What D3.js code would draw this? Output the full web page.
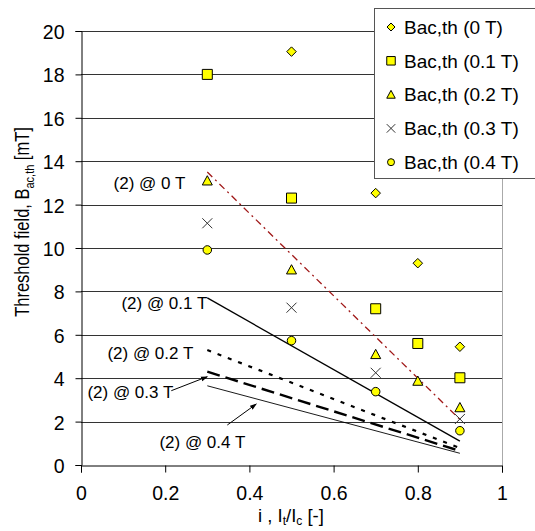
<!DOCTYPE html>
<html lang="en">
<head>
<meta charset="UTF-8">
<title>Threshold field vs current ratio</title>
<script src="https://cdn.jsdelivr.net/npm/d3@7"></script>
<style>
  body { margin: 0; background: #fff; }
  svg { display: block; font-family: "Liberation Sans", Arial, sans-serif; }
</style>
</head>
<body>
<div id="chart"></div>
<script>
// measured points (i = It/Ic, B in mT)
const seriesNames = ["Bac,th (0 T)", "Bac,th (0.1 T)", "Bac,th (0.2 T)", "Bac,th (0.3 T)", "Bac,th (0.4 T)"];
const xs0T = [0.5, 0.7, 0.8, 0.9];
const ys0T = [19.05, 12.53, 9.3, 5.45];
const xs01T = [0.3, 0.5, 0.7, 0.8, 0.9];
const ys01T = [18.0, 12.3, 7.2, 5.6, 4.02];
const xs02T = [0.3, 0.5, 0.7, 0.8, 0.9];
const ys02T = [13.1, 9.0, 5.1, 3.87, 2.65];
const xs03T = [0.3, 0.5, 0.7, 0.9];
const ys03T = [11.14, 7.25, 4.25, 2.12];
const xs04T = [0.3, 0.5, 0.7, 0.9];
const ys04T = [9.91, 5.73, 3.38, 1.58];

// model (2) lines, start and end
const modelLabels = ["(2) @ 0 T", "(2) @ 0.1 T", "(2) @ 0.2 T", "(2) @ 0.3 T", "(2) @ 0.4 T"];
const modelX = [0.3, 0.9];
const model0T = [13.5, 2.1];
const model01T = [7.7, 1.1];
const model02T = [5.3, 0.78];
const model03T = [4.3, 0.65];
const model04T = [3.65, 0.54];

const xTicks = [0, 0.2, 0.4, 0.6, 0.8, 1];
const yTicks = [0, 2, 4, 6, 8, 10, 12, 14, 16, 18, 20];

const W = 535, H = 531;
const svg = d3.select("#chart").append("svg").attr("width", W).attr("height", H);

const x = d3.scaleLinear().domain([0, 1]).range([81, 502]);
const y = d3.scaleLinear().domain([0, 20]).range([465, 31]);

// gridlines
svg.append("g").selectAll("line")
  .data(yTicks.filter(d => d > 0))
  .enter().append("line")
  .attr("x1", x(0)).attr("x2", x(1))
  .attr("y1", d => Math.round(y(d)) + 0.5).attr("y2", d => Math.round(y(d)) + 0.5)
  .attr("stroke", "#333").attr("stroke-width", 1);

// right border of plot area
svg.append("line")
  .attr("x1", Math.round(x(1)) + 0.5).attr("x2", Math.round(x(1)) + 0.5)
  .attr("y1", y(20)).attr("y2", y(0))
  .attr("stroke", "#aaa");

// axes
const yAxis = svg.append("g")
  .attr("transform", `translate(${Math.round(x(0)) + 0.5},0)`)
  .call(d3.axisLeft(y).tickValues(yTicks).tickSize(6).tickPadding(11).tickFormat(d3.format("d")));
const xAxis = svg.append("g")
  .attr("transform", `translate(0,${Math.round(y(0)) + 0.5})`)
  .call(d3.axisBottom(x).tickValues(xTicks).tickSize(7).tickPadding(19).tickFormat(d => d === 0 || d === 1 ? d : d.toFixed(1)));
[yAxis, xAxis].forEach(a => {
  a.select(".domain").attr("stroke", "#000");
  a.selectAll(".tick line").attr("stroke", "#000");
  a.selectAll(".tick text").attr("fill", "#000").style("font-size", "19.5px").style("font-family", "Liberation Sans, Arial, sans-serif");
});
yAxis.selectAll(".tick text").attr("dy", "0.38em");
xAxis.selectAll(".tick text").attr("dy", "0.45em");

// model lines
const modelStyles = [
  { color: "#a01818", width: 1.3, dash: "7,4,2,4" },
  { color: "#000", width: 1.3, dash: null },
  { color: "#000", width: 2.2, dash: "4,7" },
  { color: "#000", width: 2.4, dash: "13,6" },
  { color: "#000", width: 0.9, dash: null }
];
const models = [model0T, model01T, model02T, model03T, model04T];
const line = d3.line().x(d => x(d[0])).y(d => y(d[1]));
models.forEach((m, i) => {
  const p = svg.append("path")
    .attr("d", line(modelX.map((v, k) => [v, m[k]])))
    .attr("fill", "none")
    .attr("stroke", modelStyles[i].color)
    .attr("stroke-width", modelStyles[i].width);
  if (modelStyles[i].dash) p.attr("stroke-dasharray", modelStyles[i].dash);
});

// model labels (pixel offsets from the line start)
const labelPos = [
  { dx: -22, dy: 189 - y(model0T[0]), anchor: "end" },
  { dx: 0, dy: 309 - y(model01T[0]), anchor: "end" },
  { dx: -14, dy: 359 - y(model02T[0]), anchor: "end" },
  { dx: -34, dy: 398 - y(model03T[0]), anchor: "end" },
  { dx: 38, dy: 448 - y(model04T[0]), anchor: "end" }
];
modelLabels.forEach((t, i) => {
  svg.append("text")
    .attr("x", x(modelX[0]) + labelPos[i].dx)
    .attr("y", y(models[i][0]) + labelPos[i].dy)
    .attr("text-anchor", labelPos[i].anchor)
    .style("font-size", "17px")
    .text(t);
});

// arrows for 0.3 T and 0.4 T labels
svg.append("defs").append("marker")
  .attr("id", "arr").attr("viewBox", "0 0 10 10").attr("refX", 9).attr("refY", 5)
  .attr("markerWidth", 7).attr("markerHeight", 7).attr("orient", "auto")
  .append("path").attr("d", "M0,1.5 L10,5 L0,8.5 Z").attr("fill", "#000");
const arrows = [
  [[x(modelX[0]) - 36, y(model03T[0]) + 19], [x(modelX[0]), y(model03T[0]) + 5]],
  [[x(modelX[0]) + 20, 425], [x(modelX[0]) + 49, 404]]
];
arrows.forEach(a => {
  svg.append("line")
    .attr("x1", a[0][0]).attr("y1", a[0][1]).attr("x2", a[1][0]).attr("y2", a[1][1])
    .attr("stroke", "#000").attr("stroke-width", 1).attr("marker-end", "url(#arr)");
});

// marker shapes
function shapePath(kind, s) {
  const h = s / 2;
  if (kind === "diamond") return `M0,${-h}L${h},0L0,${h}L${-h},0Z`;
  if (kind === "square") return `M${-h},${-h}H${h}V${h}H${-h}Z`;
  if (kind === "triangle") return `M0,${-h}L${h},${h * 0.85}L${-h},${h * 0.85}Z`;
  if (kind === "cross") return `M${-h},${-h}L${h},${h}M${-h},${h}L${h},${-h}`;
  return `M${h},0A${h},${h} 0 1,1 ${-h},0A${h},${h} 0 1,1 ${h},0Z`;
}
const kinds = ["diamond", "square", "triangle", "cross", "circle"];
const sizes = [9.5, 10, 10, 10, 8.5];
const allX = [xs0T, xs01T, xs02T, xs03T, xs04T];
const allY = [ys0T, ys01T, ys02T, ys03T, ys04T];

function drawMarker(g, kind, s) {
  g.append("path")
    .attr("d", shapePath(kind, s))
    .attr("fill", kind === "cross" ? "none" : "#ffff00")
    .attr("stroke", kind === "cross" ? "#333" : "#000")
    .attr("stroke-width", 1);
}

kinds.forEach((k, i) => {
  svg.append("g").selectAll("g")
    .data(allX[i].map((v, j) => [v, allY[i][j]]))
    .enter().append("g")
    .attr("transform", d => `translate(${x(d[0])},${y(d[1])})`)
    .each(function () { drawMarker(d3.select(this), k, sizes[i]); });
});

// legend
const lg = svg.append("g");
lg.append("rect")
  .attr("x", 374.5).attr("y", 8.5).attr("width", 200).attr("height", 170)
  .attr("fill", "#fff").attr("stroke", "#555");
seriesNames.forEach((n, i) => {
  const cy = 27 + i * 33.8;
  const m = lg.append("g").attr("transform", `translate(391,${cy})`);
  drawMarker(m, kinds[i], sizes[i] - 1.5);
  lg.append("text").attr("x", 404).attr("y", cy).attr("dy", "0.36em")
    .style("font-size", "19px").text(n);
});

// axis titles
const xt = svg.append("text")
  .attr("x", 291).attr("y", 522).attr("text-anchor", "middle")
  .style("font-size", "18.5px");
xt.append("tspan").text("i , I");
xt.append("tspan").attr("dy", 3).style("font-size", "12px").text("t");
xt.append("tspan").attr("dy", -3).text("/I");
xt.append("tspan").attr("dy", 3).style("font-size", "12px").text("c");
xt.append("tspan").attr("dy", -3).text(" [-]");

const yt = svg.append("text")
  .attr("transform", "translate(29,222) rotate(-90) scale(1,1.2)")
  .attr("text-anchor", "middle")
  .style("font-size", "16.5px");
yt.append("tspan").text("Threshold field, B");
yt.append("tspan").attr("dy", 4).style("font-size", "11px").text("ac,th");
yt.append("tspan").attr("dy", -4).text(" [mT]");
</script>
</body>
</html>
